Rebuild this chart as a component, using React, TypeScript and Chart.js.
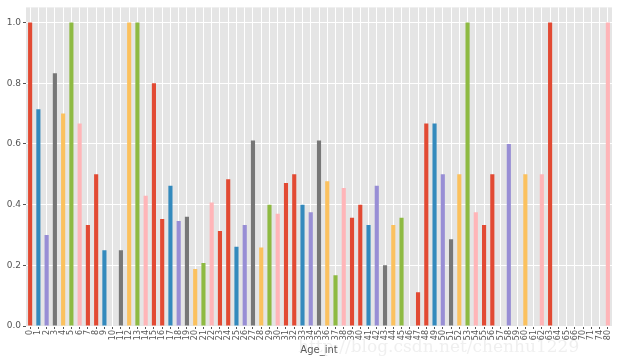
import React, { useEffect, useRef } from "react";
import { Chart, registerables } from "chart.js";

Chart.register(...registerables);

const categories: string[] = [
  "0","1","2","3","4","5","6","7","8","9","10","11","12","13","14","15","16","17","18","19",
  "20","21","22","23","24","25","26","27","28","29","30","31","32","33","34","35","36","37","38","39",
  "40","41","42","43","44","45","46","47","48","49","50","51","52","53","54","55","56","57","58","59",
  "60","61","62","63","64","65","66","70","71","74","80",
];

const survivalRate: number[] = [
  1.0, 0.714, 0.3, 0.833, 0.7, 1.0, 0.667, 0.333, 0.5, 0.25,
  0.0, 0.25, 1.0, 1.0, 0.429, 0.8, 0.353, 0.462, 0.346, 0.36,
  0.188, 0.208, 0.407, 0.313, 0.484, 0.261, 0.333, 0.611, 0.259, 0.4,
  0.37, 0.471, 0.5, 0.4, 0.375, 0.611, 0.477, 0.167, 0.455, 0.357,
  0.4, 0.333, 0.462, 0.2, 0.333, 0.357, 0.0, 0.111, 0.667, 0.667,
  0.5, 0.286, 0.5, 1.0, 0.375, 0.333, 0.5, 0.0, 0.6, 0.0,
  0.5, 0.0, 0.5, 1.0, 0.0, 0.0, 0.0, 0.0, 0.0, 0.0, 1.0,
];

const yTicks: number[] = [0, 0.2, 0.4, 0.6, 0.8, 1.0];
const xTitle = "Age_int";
const watermark = "http://blog.csdn.net/chenhu1229";

const palette = ["#E24A33", "#348ABD", "#988ED5", "#777777", "#FBC15E", "#8EBA42", "#FFB5B8", "#E24A33"];

const bgPlugin = {
  id: "plotBg",
  beforeDraw(chart: any) {
    const { ctx, chartArea } = chart;
    if (!chartArea) return;
    ctx.save();
    ctx.fillStyle = "#E5E5E5";
    ctx.fillRect(chartArea.left, chartArea.top, chartArea.right - chartArea.left, chartArea.bottom - chartArea.top);
    ctx.restore();
  },
  afterDraw(chart: any) {
    const { ctx } = chart;
    ctx.save();
    ctx.fillStyle = "rgba(180,180,180,0.22)";
    ctx.font = "17px 'DejaVu Serif', serif";
    ctx.textBaseline = "alphabetic";
    ctx.fillText(watermark, 298, 352);
    ctx.restore();
  },
};

export default function App() {
  const ref = useRef<HTMLCanvasElement | null>(null);
  useEffect(() => {
    document.body.style.margin = "0";
    if (!ref.current) return;
    const chart = new Chart(ref.current, {
      type: "bar",
      data: {
        labels: categories,
        datasets: [
          {
            data: survivalRate,
            backgroundColor: categories.map((_, i) => palette[i % palette.length]),
            borderWidth: 0,
            barPercentage: 0.5,
            categoryPercentage: 1.0,
          },
        ],
      },
      options: {
        animation: false,
        responsive: false,
        maintainAspectRatio: false,
        layout: { padding: { top: 5, right: 8, left: 0, bottom: 0 } },
        plugins: { legend: { display: false }, tooltip: { enabled: false } },
        scales: {
          x: {
            offset: true,
            grid: { offset: false, color: "#FFFFFF", lineWidth: 1, tickLength: 3, tickColor: "#555555", drawOnChartArea: true },
            border: { display: false },
            ticks: {
              autoSkip: false,
              minRotation: 90,
              maxRotation: 90,
              padding: 1,
              color: "#555555",
              font: { family: "DejaVu Sans", size: 8 },
            },
            title: { display: true, text: xTitle, color: "#555555", font: { family: "DejaVu Sans", size: 10 }, padding: { top: 0, bottom: 4 } },
            afterFit(scale: any) { scale.height = 34; },
          },
          y: {
            min: 0,
            max: 1.05,
            afterBuildTicks(scale: any) { scale.ticks = yTicks.map((v) => ({ value: v })); },
            grid: { color: "#FFFFFF", lineWidth: 1, tickLength: 3, tickColor: "#555555" },
            border: { display: false },
            ticks: {
              color: "#555555",
              padding: 2,
              font: { family: "DejaVu Sans", size: 9 },
              callback: (v: any) => Number(v).toFixed(1),
            },
            afterFit(scale: any) { scale.width = 26; },
          },
        },
      },
      plugins: [bgPlugin],
    });
    return () => chart.destroy();
  }, []);
  return <canvas ref={ref} width={620} height={360} style={{ display: "block" }} />;
}
